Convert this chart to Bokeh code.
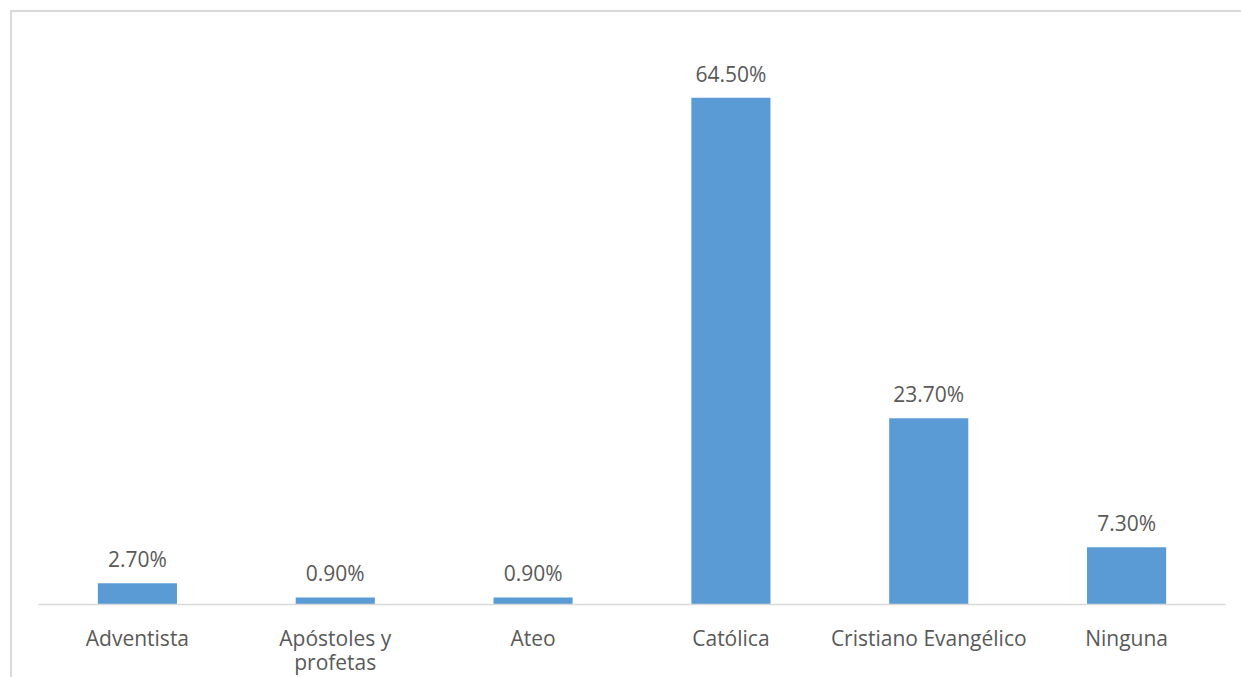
from bokeh.plotting import figure
from bokeh.models import ColumnDataSource, FixedTicker
from bokeh.core.properties import value
from bokeh.embed import file_html
from bokeh.resources import INLINE

categories = ["Adventista", "Apóstoles y profetas", "Ateo", "Católica", "Cristiano Evangélico", "Ninguna"]
values = [2.7, 0.9, 0.9, 64.5, 23.7, 7.3]
labels = ["2.70%", "0.90%", "0.90%", "64.50%", "23.70%", "7.30%"]
tick_labels = ["Adventista", "Apóstoles y\nprofetas", "Ateo", "Católica", "Cristiano Evangélico", "Ninguna"]

FONT = "Open Sans"
TXT = "#595959"
FS = "21px"

pos = list(range(len(categories)))
src = ColumnDataSource(dict(x=pos, cat=categories, val=values, lab=labels))

p = figure(x_range=(-0.5, len(categories) - 0.5), y_range=(0, 70),
           width=1231, height=667, margin=(10, 0, 0, 10),
           output_backend="svg", toolbar_location=None,
           min_border_left=26, min_border_right=18, min_border_top=42, min_border_bottom=75)
p.styles = {"border-left": "2.5px solid #d9d9d9", "border-top": "2.5px solid #d9d9d9"}
p.vbar(x="x", top="val", width=0.4, source=src, color="#5B9BD5", line_color=None)
p.text(x="x", y="val", text="lab", source=src, text_align="center", text_baseline="bottom",
       y_offset=-10, text_font=value(FONT), text_font_size=FS, text_color=TXT)

p.yaxis.visible = False
p.xgrid.grid_line_color = None
p.ygrid.grid_line_color = None
p.outline_line_color = None

ax = p.xaxis[0]
ax.ticker = FixedTicker(ticks=pos)
ax.major_label_overrides = {i: t for i, t in zip(pos, tick_labels)}
ax.axis_line_color = "#d9d9d9"
ax.axis_line_width = 1.5
ax.major_tick_line_color = None
ax.minor_tick_line_color = None
ax.major_label_standoff = 13
ax.major_label_text_font = FONT
ax.major_label_text_font_size = FS
ax.major_label_text_color = TXT
ax.major_label_text_line_height = 0.87

open("out.html", "w").write(file_html(p, INLINE))
